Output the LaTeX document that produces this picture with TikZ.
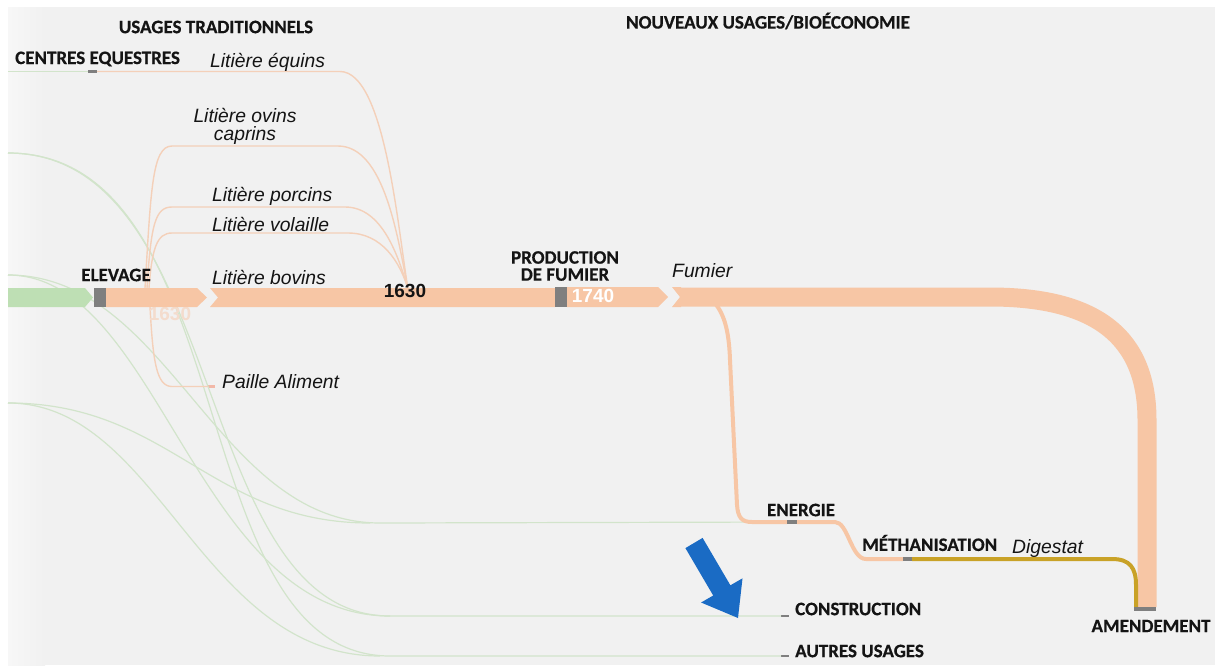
\documentclass[tikz,border=0pt]{standalone}
\usepackage{fontspec}
\newfontfamily\calib{Carlito}[BoldFeatures={FakeBold=0.5}]
\newfontfamily\arial{Liberation Sans}
\definecolor{ink}{HTML}{141414}
\definecolor{panel}{HTML}{F1F1F1}
\definecolor{panelhi}{HTML}{F7F7F7}
\definecolor{straw}{HTML}{F7C6A5}
\definecolor{strawlite}{HTML}{F4D0B9}
\definecolor{meadow}{HTML}{BEDFB4}
\definecolor{meadowline}{HTML}{D2E4CB}
\definecolor{gris}{HTML}{7F7F7F}
\definecolor{gold}{HTML}{C9A227}
\definecolor{bleu}{HTML}{1A6BC4}
\definecolor{pale}{HTML}{F4DCCD}
\definecolor{rosy}{HTML}{F2B8A8}
\tikzset{
  head/.style={font=\calib\bfseries\fontsize{19}{17}\selectfont, text=ink, inner sep=0pt},
  flowlab/.style={font=\arial\itshape\fontsize{19.3}{18}\selectfont, text=ink, inner sep=0pt},
  qty/.style={font=\arial\bfseries\fontsize{19}{19}\selectfont, inner sep=0pt},
  marker/.style={fill=gris, draw=none, inner sep=0pt, outer sep=0pt},
  litiere/.style={draw=strawlite, line width=1.4pt},
  greenflow/.style={draw=meadowline, line width=1.2pt},
  band/.style={fill=straw, draw=none},
}
\begin{document}
\begin{tikzpicture}[x=1pt,y=-1pt]
\useasboundingbox (0,0) rectangle (1215,665);
% backdrop
\fill[white] (0,0) rectangle (1215,665);
\fill[panel] (8,7) rectangle (1215,665);
\shade[left color=panelhi, right color=panel] (8,7) rectangle (45,665);

% sources and end points
\coordinate (srcD) at (8,71.5);
\coordinate (srcA) at (8,153);
\coordinate (srcB) at (8,275);
\coordinate (srcC) at (8,403);
\coordinate (collect) at (408,289);

\node[marker, minimum width=9pt, minimum height=3pt] (centres) at (92.5,71.5) {};
\node[marker, minimum width=12pt, minimum height=19pt] (elevage) at (100,297.5) {};
\node[marker, minimum width=12pt, minimum height=20pt] (fumier) at (561,297) {};
\node[marker, minimum width=10pt, minimum height=4pt] (energie) at (792,522) {};
\node[marker, minimum width=9pt, minimum height=4pt] (metha) at (907.5,559) {};
\node[marker, minimum width=22pt, minimum height=4pt] (amend) at (1145,609) {};
\node[marker, minimum width=8pt, minimum height=2.5pt] (constr) at (785,616) {};
\node[marker, minimum width=8pt, minimum height=2.5pt] (autres) at (785,656) {};
\node[fill=rosy, inner sep=0pt, minimum width=7pt, minimum height=2.5pt] (paille) at (211.5,386.5) {};

% straw flows from the fields (faint green)
\draw[greenflow] (srcD) -- (centres.west);
\draw[greenflow] (srcA) .. controls (230,153) and (190,616) .. (390,616) -- (constr.west);
\draw[greenflow] (srcA) .. controls (245,153) and (180,656) .. (390,656) -- (autres.west);
\draw[greenflow] (srcB) .. controls (170,275) and (215,523) .. (380,523) -- (energie.west);
\draw[greenflow] (srcB) .. controls (160,275) and (195,616) .. (390,616);
\draw[greenflow] (srcC) .. controls (170,403) and (210,523) .. (370,523);
\draw[greenflow] (srcC) .. controls (160,403) and (200,656) .. (380,656);

% bedding flows converging to the manure stream
\draw[litiere] (centres.east) -- (340,71.5) .. controls (385,71.5) and (398,230) .. (collect);
\draw[litiere] (145,288) .. controls (151,190) and (152,146) .. (172,146) -- (338,146) .. controls (385,146) and (398,240) .. (collect);
\draw[litiere] (147,288) .. controls (151,225) and (155,207) .. (172,207) -- (345,207) .. controls (382,207) and (398,255) .. (collect);
\draw[litiere] (149,288) .. controls (152,248) and (157,233) .. (172,233) -- (348,233) .. controls (382,233) and (400,262) .. (collect);
\draw[litiere] (150,307) .. controls (153,360) and (156,386.5) .. (172,386.5) -- (paille.west);

% pale quantity under the first band
\node[qty, text=pale] (q1630b) at (170,314) {1630};

% main bands
\fill[meadow] (8,288) -- (85,288) -- (93,297.5) -- (85,307) -- (8,307) -- cycle;
\fill[band] (elevage.east |- 0,288) -- (197,288) -- (207,297.5) -- (197,307) -- (elevage.east |- 0,307) -- cycle;
\fill[band] (210,288) -- (fumier.west |- 0,288) -- (fumier.west |- 0,307) -- (210,307) -- (218,297.5) -- cycle;
\fill[band] (fumier.east |- 0,287) -- (658,287) -- (668,297) -- (658,307) -- (fumier.east |- 0,307) -- cycle;
\fill[band] (672,287) -- (681,287) -- (681,307) -- (672,307) -- (680,297) -- cycle;
\draw[straw, line width=19pt] (680,297) -- (990,297) .. controls (1100,297) and (1147,340) .. (1147,420) -- (1147,607);

% branch to energy / methanisation
\draw[straw, line width=4pt] (712,300) .. controls (724,312) and (729,330) .. (730,360) -- (737,505) .. controls (738,518) and (742,522) .. (752,522) -- (energie.west);
\draw[straw, line width=4pt] (energie.east) -- (835,522) .. controls (848,522) and (851,559) .. (866,559) -- (metha.west);
\draw[gold, line width=4pt] (metha.east) -- (1112,559) .. controls (1130,559) and (1136,568) .. (1136,585) -- (1136,607);

% redraw markers over the flows
\node[marker, minimum width=12pt, minimum height=19pt] at (elevage) {};
\node[marker, minimum width=12pt, minimum height=20pt] at (fumier) {};
\node[marker, minimum width=10pt, minimum height=4pt] at (energie) {};
\node[marker, minimum width=9pt, minimum height=4pt] at (metha) {};
\node[marker, minimum width=22pt, minimum height=4pt] at (amend) {};

% blue pointer
\fill[bleu] (702.6,537.9) -- (730.4,585.3) -- (742.5,578.3) -- (738,618) -- (701.1,602.5) -- (713.2,595.5) -- (685.4,548.1) -- cycle;

% labels
\node[head] (tUT) at (216,27) {USAGES TRADITIONNELS};
\node[head] (tNU) at (768,21) {NOUVEAUX USAGES/BIOÉCONOMIE};
\node[head, anchor=west] (lCE) at (15,59) {CENTRES EQUESTRES};
\node[flowlab, anchor=west] (lEq) at (210,62) {Litière équins};
\node[flowlab, align=center] (lOv) at (245,126) {Litière ovins\\caprins};
\node[flowlab, anchor=west] (lPo) at (212,196) {Litière porcins};
\node[flowlab, anchor=west] (lVo) at (212,224) {Litière volaille};
\node[head] (lEl) at (116,275) {ELEVAGE};
\node[flowlab, anchor=west] (lBo) at (212,277) {Litière bovins};
\node[qty, text=ink] (q1630) at (405,291) {1630};
\node[head, align=center] (lPF) at (565,266) {PRODUCTION\\DE FUMIER};
\node[qty, text=white] (q1740) at (593,296) {1740};
\node[flowlab, anchor=west] (lFu) at (672,271) {Fumier};
\node[flowlab, anchor=west] (lPa) at (222,382) {Paille Aliment};
\node[head] (lEn) at (801,510) {ENERGIE};
\node[head, anchor=west] (lMe) at (862,543) {MÉTHANISATION};
\node[flowlab, anchor=west] (lDi) at (1012,548) {Digestat};
\node[head, anchor=west] (lCo) at (795,609) {CONSTRUCTION};
\node[head, anchor=west] (lAu) at (795,651) {AUTRES USAGES};
\node[head] (lAm) at (1151,626) {AMENDEMENT};
\end{tikzpicture}
\end{document}
